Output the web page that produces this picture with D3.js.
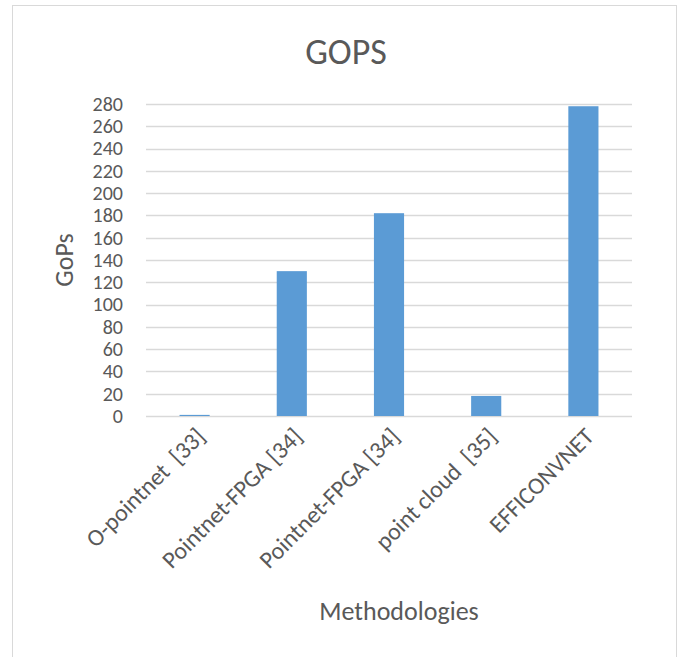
<!DOCTYPE html>
<html>
<head>
<meta charset="utf-8">
<script src="https://cdn.jsdelivr.net/npm/d3@7"></script>
<style>
  body { margin: 0; background: #fff; }
  text { font-family: "Carlito", "Liberation Sans", "Open Sans", sans-serif; fill: #595959; }
</style>
</head>
<body>
<div id="chart"></div>
<script>
// data
var categories = ["O-pointnet  [33]", "Pointnet-FPGA [34]", "Pointnet-FPGA [34]", "point cloud  [35]", "EFFICONVNET"];
var gops = [1, 130, 182, 18, 278];
var yTicks = [0, 20, 40, 60, 80, 100, 120, 140, 160, 180, 200, 220, 240, 260, 280];

var W = 684, H = 657;
var margin = {left: 146, right: 52, top: 104, bottom: 241};
var width = W - margin.left - margin.right, height = H - margin.top - margin.bottom;

var svg = d3.select("#chart").append("svg")
    .attr("width", W)
    .attr("height", H);

// outer frame
svg.append("rect")
    .attr("x", 12.5).attr("y", 5.5)
    .attr("width", 664).attr("height", 670)
    .attr("fill", "none")
    .attr("stroke", "#d9d9d9");

var g = svg.append("g")
    .attr("transform", "translate(" + margin.left + "," + margin.top + ")");

var x = d3.scaleBand()
    .domain(d3.range(categories.length))
    .range([0, width])
    .paddingInner(0.69)
    .paddingOuter(0.345);

var y = d3.scaleLinear()
    .domain([0, 280])
    .range([height, 0]);

// gridlines
g.selectAll(".grid")
    .data(yTicks)
    .enter()
    .append("line")
        .attr("x1", 0).attr("x2", width)
        .attr("y1", function(d) { return Math.round(y(d)) + 0.5; })
        .attr("y2", function(d) { return Math.round(y(d)) + 0.5; })
        .attr("stroke", "#d9d9d9")
        .attr("stroke-width", 1.3);

// bars
g.selectAll(".bar")
    .data(gops)
    .enter()
    .append("rect")
        .attr("x", function(d, i) { return x(i); })
        .attr("y", function(d) { return y(d); })
        .attr("width", x.bandwidth())
        .attr("height", function(d) { return height - y(d); })
        .attr("fill", "#5b9bd5");

// y axis labels
var yAxis = g.append("g").call(d3.axisLeft(y).tickValues(yTicks).tickSize(0).tickPadding(23));
yAxis.select(".domain").remove();
yAxis.selectAll("text")
    .style("font-size", "20px")
    .style("font-family", "Carlito, 'Liberation Sans', sans-serif")
    .attr("fill", "#595959");

// x axis labels (rotated)
g.selectAll(".xlab")
    .data(categories)
    .enter()
    .append("text")
        .attr("transform", function(d, i) {
            var cx = x(i) + x.bandwidth() / 2;
            return "translate(" + (cx + 6) + "," + (height + 16) + ") rotate(-45)";
        })
        .attr("text-anchor", "end")
        .attr("dy", "0.35em")
        .style("font-size", "24px")
        .style("white-space", "pre")
        .text(function(d) { return d; });

// title
svg.append("text")
    .attr("x", 346).attr("y", 64)
    .attr("text-anchor", "middle")
    .style("font-size", "36px")
    .text("GOPS");

// axis titles
svg.append("text")
    .attr("transform", "translate(73,260) rotate(-90)")
    .attr("text-anchor", "middle")
    .style("font-size", "26px")
    .text("GoPs");

svg.append("text")
    .attr("x", 399).attr("y", 620)
    .attr("text-anchor", "middle")
    .style("font-size", "26px")
    .text("Methodologies");
</script>
</body>
</html>
